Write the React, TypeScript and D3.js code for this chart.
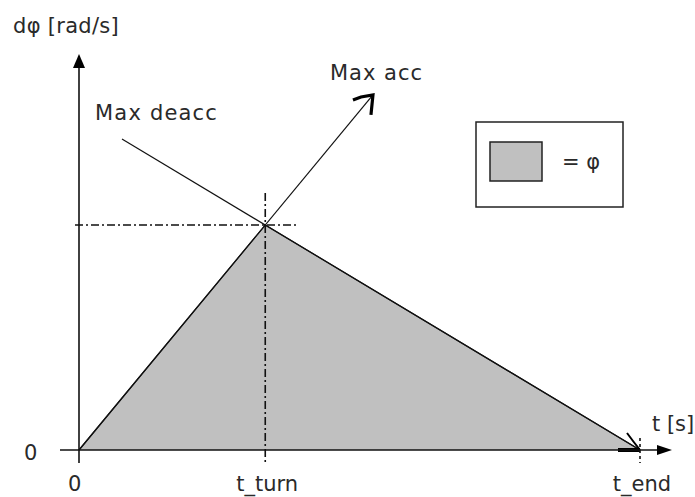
import React from "react";
import * as d3 from "d3";

// Data (time units 0..100, speed units 0..100 at t_turn)
const areaT = [0, 33.2, 100];
const areaV = [0, 100, 0];
const accLineT = [0, 52.4];
const accLineV = [0, 157.8];
const deaccLineT = [7.66, 100];
const deaccLineV = [138.2, 0];
const xTickLabels = ["0", "t_turn", "t_end"];
const xTickValues = [0, 33.2, 100];
const yTickLabels = ["0"];
const yTickValues = [0];

const W = 695;
const H = 497;

export default function App() {
  const x = d3.scaleLinear().domain([0, 100]).range([79, 640]);
  const y = d3.scaleLinear().domain([0, 100]).range([450, 225]);

  const font = "'DejaVu Sans', sans-serif";
  const fs = 21;
  const txt = "#2a2a2a";

  const area = d3
    .area<number>()
    .x((_, i) => x(areaT[i]))
    .y0(y(0))
    .y1((_, i) => y(areaV[i]));
  const line = d3
    .line<number>()
    .x((_, i) => x(areaT[i]))
    .y((_, i) => y(areaV[i]));

  const ax0 = x(accLineT[0]), ay0 = y(accLineV[0]);
  const ax1 = x(accLineT[1]), ay1 = y(accLineV[1]);
  const dx0 = x(deaccLineT[0]), dy0 = y(deaccLineV[0]);
  const dx1 = x(deaccLineT[1]), dy1 = y(deaccLineV[1]);

  const turnX = x(xTickValues[1]);
  const peakY = y(100);
  const endX = x(xTickValues[2]);

  const yAxisX = x(0);
  const xAxisY = y(0);
  const yTop = y(176);
  const xRight = x(105.7);

  const dashDot = "8,3,2,3";

  return (
    <svg width={W} height={H} style={{ position: "absolute", left: 0, top: 0, background: "#fff" }}>
      {/* shaded area */}
      <path d={area(areaT) || ""} fill="#c0c0c0" stroke="none" />
      <path d={line(areaT) || ""} fill="none" stroke="#111" strokeWidth={1.2} />

      {/* max acc line */}
      <line x1={ax0} y1={ay0} x2={ax1} y2={ay1} stroke="#111" strokeWidth={1.2} />
      <polyline
        points={`${ax1 - 20},${ay1 + 5} ${ax1 - 12},${ay1 + 2} ${ax1},${ay1} ${ax1 - 2},${ay1 + 20}`}
        fill="none"
        stroke="#000"
        strokeWidth={3.2}
        strokeLinejoin="miter"
      />
      {/* max deacc line */}
      <line x1={dx0} y1={dy0} x2={dx1} y2={dy1} stroke="#111" strokeWidth={1.2} />
      {/* small mark near t_end */}
      <line x1={endX - 22} y1={xAxisY} x2={endX} y2={xAxisY} stroke="#000" strokeWidth={4} />
      <polyline
        points={`${endX - 13},${xAxisY - 17} ${endX - 7},${xAxisY - 9} ${endX},${xAxisY}`}
        fill="none"
        stroke="#000"
        strokeWidth={2}
      />

      {/* dash-dot guides */}
      <line x1={yAxisX - 4} y1={peakY} x2={turnX + 32} y2={peakY} stroke="#111" strokeWidth={1.6} strokeDasharray={dashDot} />
      <line x1={turnX} y1={peakY - 32} x2={turnX} y2={xAxisY + 13} stroke="#111" strokeWidth={1.6} strokeDasharray={dashDot} />
      <line x1={endX} y1={xAxisY - 12} x2={endX} y2={xAxisY + 13} stroke="#111" strokeWidth={1.6} strokeDasharray="3,3" />

      {/* axes */}
      <line x1={yAxisX} y1={xAxisY + 13} x2={yAxisX} y2={yTop + 12} stroke="#111" strokeWidth={1.6} />
      <path d={`M${yAxisX},${yTop} L${yAxisX - 6},${yTop + 14} L${yAxisX + 6},${yTop + 14} Z`} fill="#000" />
      <line x1={60} y1={xAxisY} x2={xRight - 13} y2={xAxisY} stroke="#111" strokeWidth={1.6} />
      <path d={`M${xRight},${xAxisY} L${xRight - 15},${xAxisY - 5} L${xRight - 15},${xAxisY + 5} Z`} fill="#000" />

      {/* legend */}
      <rect x={476} y={122} width={147} height={85} fill="#fff" stroke="#222" strokeWidth={1.5} />
      <rect x={490} y={142} width={52} height={39} fill="#c0c0c0" stroke="#222" strokeWidth={1.5} />
      <text x={562} y={169} fontFamily={font} fontSize={fs} fill={txt}>= φ</text>

      {/* labels */}
      <text x={13} y={33} fontFamily={font} fontSize={fs} fill={txt} letterSpacing={0.3}>dφ [rad/s]</text>
      <text x={95} y={120} fontFamily={font} fontSize={fs} fill={txt} letterSpacing={1.2}>Max deacc</text>
      <text x={330} y={80} fontFamily={font} fontSize={fs} fill={txt} letterSpacing={1}>Max acc</text>
      <text x={652} y={431} fontFamily={font} fontSize={fs} fill={txt}>t [s]</text>

      {yTickValues.map((v, i) => (
        <text key={"y" + i} x={24} y={y(v) + 10} fontFamily={font} fontSize={fs} fill={txt}>{yTickLabels[i]}</text>
      ))}
      {xTickValues.map((v, i) => (
        <text
          key={"x" + i}
          x={i === 0 ? x(v) - 11 : x(v) + 2}
          y={491}
          fontFamily={font}
          fontSize={fs}
          fill={txt}
          textAnchor={i === 0 ? "start" : "middle"}
        >
          {xTickLabels[i]}
        </text>
      ))}
    </svg>
  );
}
